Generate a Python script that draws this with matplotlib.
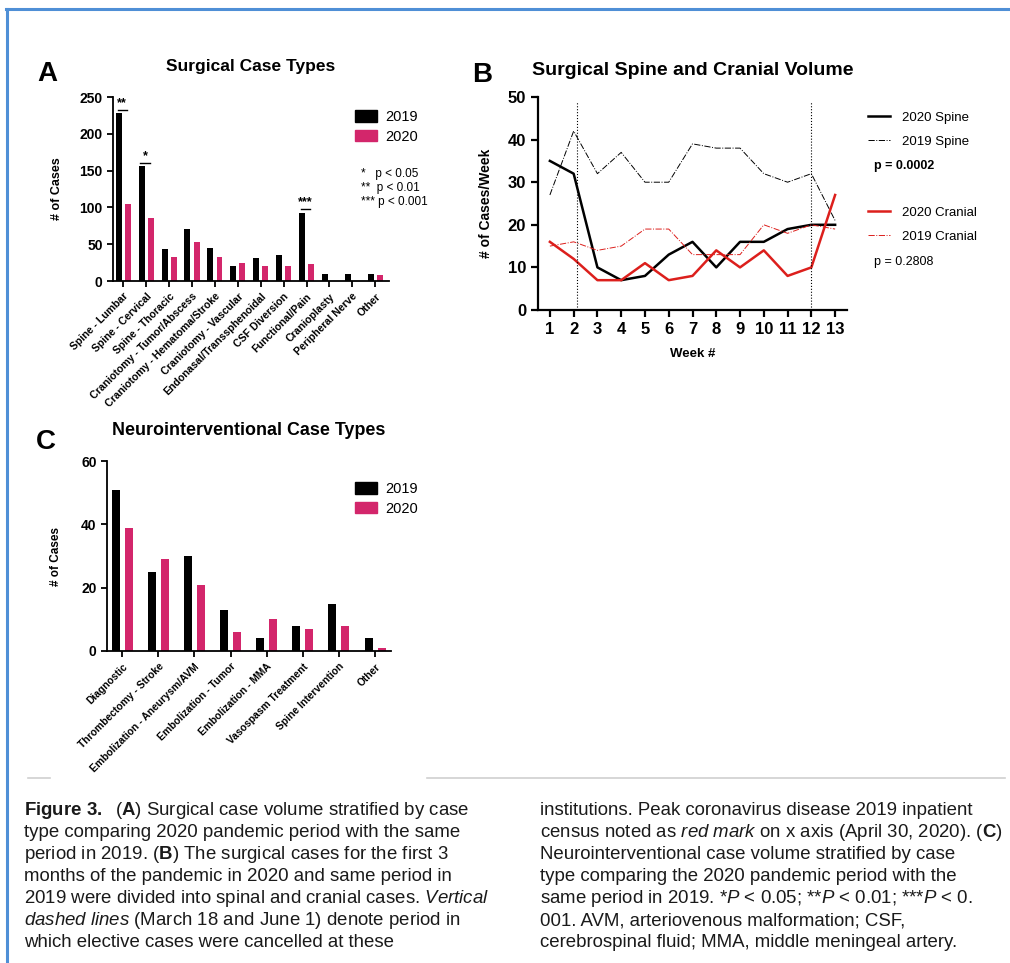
import numpy as np
import matplotlib as mpl
mpl.use('Agg')
import matplotlib.pyplot as plt
from matplotlib.patches import Patch
from matplotlib.lines import Line2D

plt.rcParams['font.family'] = ['Liberation Sans', 'DejaVu Sans']
plt.rcParams['mathtext.fontset'] = 'custom'
plt.rcParams['mathtext.rm'] = 'Liberation Sans'
plt.rcParams['mathtext.it'] = 'Liberation Sans:italic'
plt.rcParams['mathtext.bf'] = 'Liberation Sans:bold'

# --- data ---
surg_types = ['Spine - Lumbar', 'Spine - Cervical', 'Spine - Thoracic',
              'Craniotomy - Tumor/Abscess', 'Craniotomy - Hematoma/Stroke',
              'Craniotomy - Vascular', 'Endonasal/Transsphenoidal',
              'CSF Diversion', 'Functional/Pain', 'Cranioplasty',
              'Peripheral Nerve', 'Other']
surg_2019 = [228, 156, 44, 71, 45, 21, 31, 35, 93, 9, 9, 10]
surg_2020 = [105, 85, 32, 53, 32, 25, 21, 20, 23, 0, 0, 8]
sig_idx = [0, 1, 8]
sig_marks = ['**', '*', '***']

weeks = list(range(1, 14))
spine_2020 = [35, 32, 10, 7, 8, 13, 16, 10, 16, 16, 19, 20, 20]
spine_2019 = [27, 42, 32, 37, 30, 30, 39, 38, 38, 32, 30, 32, 21]
cranial_2020 = [16, 12, 7, 7, 11, 7, 8, 14, 10, 14, 8, 10, 27]
cranial_2019 = [15, 16, 14, 15, 19, 19, 13, 13, 13, 20, 18, 20, 19]
cancel_weeks = [2.13, 12]

neuro_types = ['Diagnostic', 'Thrombectomy - Stroke',
               'Embolization - Aneurysm/AVM', 'Embolization - Tumor',
               'Embolization - MMA', 'Vasospasm Treatment',
               'Spine Intervention', 'Other']
neuro_2019 = [51, 25, 30, 13, 4, 8, 15, 4]
neuro_2020 = [39, 29, 21, 6, 10, 7, 8, 1]

caption_left = [
    r"$\mathbf{Figure\ 3.}$  ($\mathbf{A}$) Surgical case volume stratified by case",
    "type comparing 2020 pandemic period with the same",
    r"period in 2019. ($\mathbf{B}$) The surgical cases for the first 3",
    "months of the pandemic in 2020 and same period in",
    r"2019 were divided into spinal and cranial cases. $\mathit{Vertical}$",
    r"$\mathit{dashed\ lines}$ (March 18 and June 1) denote period in",
    "which elective cases were cancelled at these",
]
caption_right = [
    "institutions. Peak coronavirus disease 2019 inpatient",
    r"census noted as $\mathit{red\ mark}$ on x axis (April 30, 2020). ($\mathbf{C}$)",
    "Neurointerventional case volume stratified by case",
    "type comparing the 2020 pandemic period with the",
    r"same period in 2019. *$\mathit{P}$ < 0.05; **$\mathit{P}$ < 0.01; ***$\mathit{P}$ < 0.",
    "001. AVM, arteriovenous malformation; CSF,",
    "cerebrospinal fluid; MMA, middle meningeal artery.",
]

BLACK = '#000000'
PINK = '#d3266b'
RED = '#dc1f1c'

W, H = 1010, 963
fig = plt.figure(figsize=(W / 100, H / 100), dpi=100)


def px_axes(x0, y0, x1, y1):
    return fig.add_axes([x0 / W, 1 - y1 / H, (x1 - x0) / W, (y1 - y0) / H])


def style_bar_axes(ax, labels, fs_lab):
    for s in ['top', 'right']:
        ax.spines[s].set_visible(False)
    for s in ['left', 'bottom']:
        ax.spines[s].set_linewidth(1.3)
    ax.tick_params(width=1.3, length=4)
    ax.set_xticks(range(len(labels)))
    ax.set_xticklabels(labels, rotation=45, ha='right', va='top',
                       rotation_mode='anchor', fontsize=fs_lab,
                       fontweight='bold')
    for lab in ax.get_yticklabels():
        lab.set_fontweight('bold')
        lab.set_fontsize(10)


# ---------------- Panel A ----------------
axA = px_axes(113, 97, 389, 281)
x = np.arange(len(surg_types))
axA.bar(x - 0.2, surg_2019, width=0.26, color=BLACK, label='2019')
axA.bar(x + 0.2, surg_2020, width=0.26, color=PINK, label='2020')
axA.set_xlim(-0.45, 11.6)
axA.set_ylim(0, 250)
axA.set_yticks(range(0, 251, 50))
style_bar_axes(axA, surg_types, 7.6)
axA.set_ylabel('# of Cases', fontsize=9, fontweight='bold')
axA.yaxis.set_label_coords(-50 / 276, 0.5)
axA.set_title('Surgical Case Types', fontsize=12.5, fontweight='bold', pad=19)
for i, m in zip(sig_idx, sig_marks):
    yl = surg_2019[i] + 5
    axA.plot([i - 0.25, i + 0.15], [yl, yl], color='black', lw=1.0)
    axA.text(i - 0.05, yl + 1, m, ha='center', va='bottom', fontsize=9,
             fontweight='bold')
axA.legend(handles=[Patch(color=BLACK, label='2019'), Patch(color=PINK, label='2020')],
           loc='upper left', bbox_to_anchor=(0.877, 0.93), frameon=False,
           fontsize=10.5, handlelength=1.5, handleheight=0.85,
           handletextpad=0.6, labelspacing=0.4, borderpad=0, borderaxespad=0)
axA.text(0.9, 0.505, '*   p < 0.05\n**  p < 0.01\n*** p < 0.001',
         transform=axA.transAxes, fontsize=8.5, va='center', ha='left',
         linespacing=1.25)

# ---------------- Panel B ----------------
axB = px_axes(538, 97, 847, 310)
axB.plot(weeks, spine_2020, color=BLACK, lw=1.8, label='2020 Spine')
axB.plot(weeks, spine_2019, color=BLACK, lw=0.7, ls='-.', label='2019 Spine')
axB.plot(weeks, cranial_2020, color=RED, lw=1.8, label='2020 Cranial')
axB.plot(weeks, cranial_2019, color=RED, lw=0.7, ls='-.', label='2019 Cranial')
axB.vlines(cancel_weeks, 0, 48.8, colors='black', lw=0.8, linestyles=':')
axB.set_xlim(0.5, 13.5)
axB.set_ylim(0, 50)
axB.set_xticks(weeks)
axB.set_yticks(range(0, 51, 10))
for s in ['top', 'right']:
    axB.spines[s].set_visible(False)
for s in ['left', 'bottom']:
    axB.spines[s].set_linewidth(1.6)
axB.tick_params(width=1.6, length=5, labelsize=12)
for lab in axB.get_xticklabels() + axB.get_yticklabels():
    lab.set_fontweight('bold')
axB.set_ylabel('# of Cases/Week', fontsize=10, fontweight='bold')
axB.yaxis.set_label_coords(-45 / 309, 0.5)
axB.set_xlabel('Week #', fontsize=9.5, fontweight='bold')
axB.xaxis.set_label_coords(0.5, -0.18)
axB.set_title('Surgical Spine and Cranial Volume', fontsize=14,
              fontweight='bold', pad=16)
h = axB.get_lines()
leg1 = axB.legend(handles=h[:2], loc='center left', bbox_to_anchor=(1.068, 0.847),
                  frameon=False, fontsize=9.5, handlelength=1.7,
                  handletextpad=0.85, labelspacing=0.88, borderpad=0,
                  borderaxespad=0)
axB.add_artist(leg1)
axB.legend(handles=h[2:4], loc='center left', bbox_to_anchor=(1.068, 0.401),
           frameon=False, fontsize=9.5, handlelength=1.7,
           handletextpad=0.85, labelspacing=0.88, borderpad=0,
           borderaxespad=0)
axB.text(1.087, 0.676, 'p = 0.0002', transform=axB.transAxes, fontsize=9,
         fontweight='bold', va='center')
axB.text(1.087, 0.225, 'p = 0.2808', transform=axB.transAxes, fontsize=9,
         va='center')

# ---------------- Panel C ----------------
axC = px_axes(107, 461, 391, 651)
xc = np.arange(len(neuro_types))
axC.bar(xc - 0.18, neuro_2019, width=0.22, color=BLACK, label='2019')
axC.bar(xc + 0.18, neuro_2020, width=0.22, color=PINK, label='2020')
axC.set_xlim(-0.42, 7.44)
axC.set_ylim(0, 60)
axC.set_yticks(range(0, 61, 20))
style_bar_axes(axC, neuro_types, 7.4)
axC.set_ylabel('# of Cases', fontsize=8.5, fontweight='bold')
axC.yaxis.set_label_coords(-45 / 284, 0.5)
axC.set_title('Neurointerventional Case Types', fontsize=12.9,
              fontweight='bold', pad=19)
axC.legend(handles=[Patch(color=BLACK, label='2019'), Patch(color=PINK, label='2020')],
           loc='upper left', bbox_to_anchor=(0.873, 0.89), frameon=False,
           fontsize=10.5, handlelength=1.5, handleheight=0.85,
           handletextpad=0.6, labelspacing=0.4, borderpad=0, borderaxespad=0)

# panel letters
fig.text(37 / W, 1 - 61 / H, 'A', fontsize=20, fontweight='bold', va='top')
fig.text(472 / W, 1 - 62 / H, 'B', fontsize=20, fontweight='bold', va='top')
fig.text(36 / W, 1 - 429 / H, 'C', fontsize=20, fontweight='bold', va='top')

# frame and separators
blue = '#4f8fd6'
fig.add_artist(Line2D([6 / W, 1], [1 - 9.5 / H] * 2, color=blue, lw=2.2))
fig.add_artist(Line2D([6.5 / W] * 2, [0, 1 - 9.5 / H], color=blue, lw=2.2))
grey = '#d0d0d0'
fig.add_artist(Line2D([28 / W, 50 / W], [1 - 778 / H] * 2, color=grey, lw=1.2))
fig.add_artist(Line2D([427 / W, 1005 / W], [1 - 778 / H] * 2, color=grey, lw=1.2))

# caption
for k, line in enumerate(caption_left):
    fig.text(24 / W, 1 - (815 + 22 * k) / H, line, fontsize=13.4,
             va='baseline', ha='left', color='#1a1a1a')
for k, line in enumerate(caption_right):
    fig.text(540 / W, 1 - (815 + 22 * k) / H, line, fontsize=13.4,
             va='baseline', ha='left', color='#1a1a1a')

fig.savefig('out.png', dpi=100)
